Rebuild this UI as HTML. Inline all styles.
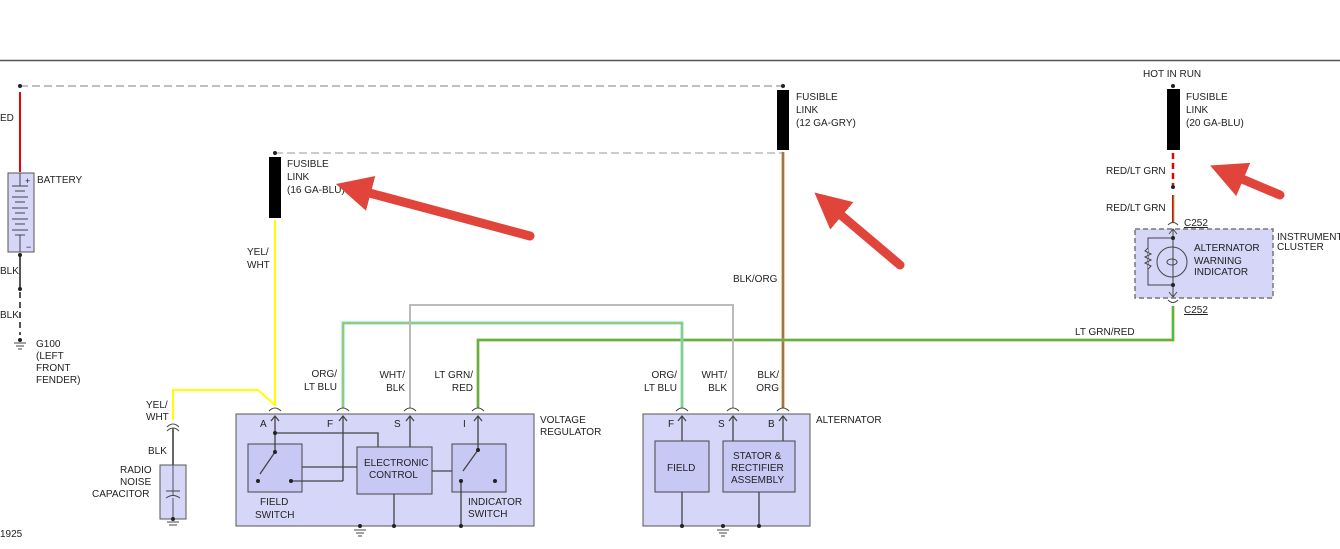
<!DOCTYPE html>
<html><head><meta charset="utf-8"><style>
body{margin:0;background:#fff;width:1340px;height:544px;overflow:hidden}
svg text{font-family:"Liberation Sans",sans-serif;font-size:10px;fill:#222}
</style></head><body>
<svg width="1340" height="544" viewBox="0 0 1340 544" xmlns="http://www.w3.org/2000/svg">
<defs>
<marker id="ah" markerWidth="4" markerHeight="4" refX="1" refY="2" orient="auto"><path d="M0,0 L4,2 L0,4 z" fill="#e0443a"/></marker>
</defs>
<line x1="0" y1="60.5" x2="1340" y2="60.5" stroke="#555" stroke-width="1.5"/>
<!-- dashed supply lines -->
<line x1="20" y1="86" x2="783" y2="86" stroke="#aaa" stroke-width="1.5" stroke-dasharray="8,4"/>
<line x1="275" y1="153" x2="783" y2="153" stroke="#bbb" stroke-width="1.5" stroke-dasharray="8,4"/>
<circle cx="20" cy="86" r="2" fill="#222"/><circle cx="783" cy="86" r="2" fill="#222"/><circle cx="275" cy="153" r="2" fill="#222"/>
<!-- battery -->
<line x1="20" y1="92" x2="20" y2="172" stroke="#e00" stroke-width="2"/>
<text x="0" y="121">ED</text>
<rect x="8" y="173" width="26" height="79" fill="#d6d6f8" stroke="#555"/>
<text x="25" y="184" style="font-size:9px">+</text><text x="26" y="250" style="font-size:9px">−</text>
<g stroke="#444"><line x1="20" y1="173" x2="20" y2="186"/><line x1="12" y1="186" x2="28" y2="186"/><line x1="15" y1="191" x2="25" y2="191"/><line x1="12" y1="197" x2="28" y2="197"/><line x1="15" y1="202" x2="25" y2="202"/><line x1="12" y1="208" x2="28" y2="208"/><line x1="15" y1="213" x2="25" y2="213"/><line x1="12" y1="219" x2="28" y2="219"/><line x1="15" y1="224" x2="25" y2="224"/><line x1="12" y1="230" x2="28" y2="230"/><line x1="15" y1="235" x2="25" y2="235"/><line x1="20" y1="235" x2="20" y2="252"/></g>
<text x="37" y="183">BATTERY</text>
<line x1="20" y1="255" x2="20" y2="289" stroke="#555" stroke-width="2"/>
<line x1="20" y1="292" x2="20" y2="335" stroke="#555" stroke-width="2" stroke-dasharray="6,4"/>
<circle cx="20" cy="255" r="2" fill="#222"/><circle cx="20" cy="289" r="2" fill="#222"/><circle cx="20" cy="340" r="2" fill="#222"/>
<g stroke="#444"><line x1="14" y1="343" x2="26" y2="343"/><line x1="16" y1="346" x2="24" y2="346"/><line x1="18" y1="349" x2="22" y2="349"/></g>
<text x="0" y="274">BLK</text><text x="0" y="318">BLK</text>
<text x="36" y="347">G100</text><text x="36" y="359">(LEFT</text><text x="36" y="371">FRONT</text><text x="36" y="383">FENDER)</text>
<!-- fusible 16 -->
<rect x="269" y="157" width="12" height="61" fill="#000"/>
<text x="287" y="167">FUSIBLE</text><text x="287" y="180">LINK</text><text x="287" y="193">(16 GA-BLU)</text>
<line x1="275" y1="220" x2="275" y2="406" stroke="#ff0" stroke-width="2"/>
<text x="247" y="255">YEL/</text><text x="247" y="268">WHT</text>
<!-- fusible 12 -->
<rect x="777" y="90" width="12" height="60" fill="#000"/>
<text x="796" y="100">FUSIBLE</text><text x="796" y="113">LINK</text><text x="796" y="126">(12 GA-GRY)</text>
<line x1="783" y1="152" x2="783" y2="408" stroke="#e89030" stroke-width="3"/>
<line x1="783" y1="152" x2="783" y2="408" stroke="#666" stroke-width="1.2"/>
<text x="733" y="282">BLK/ORG</text>
<!-- hot in run -->
<text x="1143" y="77">HOT IN RUN</text>
<circle cx="1173" cy="86" r="2" fill="#222"/>
<rect x="1167" y="89" width="13" height="61" fill="#000"/>
<text x="1186" y="100">FUSIBLE</text><text x="1186" y="113">LINK</text><text x="1186" y="126">(20 GA-BLU)</text>
<line x1="1173" y1="153" x2="1173" y2="185" stroke="#e00" stroke-width="2.5" stroke-dasharray="6,4"/>
<circle cx="1173" cy="187" r="2" fill="#222"/>
<line x1="1173" y1="195" x2="1173" y2="222" stroke="#e00" stroke-width="2"/>
<line x1="1174" y1="195" x2="1174" y2="222" stroke="#6d6" stroke-width="1"/>
<text x="1106" y="174">RED/LT GRN</text><text x="1106" y="211">RED/LT GRN</text>
<path d="M1168,225 Q1173,220 1178,225" fill="none" stroke="#444"/>
<text x="1184" y="226" text-decoration="underline">C252</text>
<rect x="1135" y="229" width="138" height="69" fill="#d6d6f8" stroke="#777" stroke-width="1.5" stroke-dasharray="5,3"/>
<text x="1277" y="240">INSTRUMENT</text><text x="1277" y="250">CLUSTER</text>
<g stroke="#444" fill="none"><line x1="1173" y1="229" x2="1173" y2="297"/><path d="M1169,234 L1173,229 L1177,234"/><path d="M1169,292 L1173,297 L1177,292"/>
<circle cx="1172" cy="262" r="15"/><ellipse cx="1172" cy="262" rx="5" ry="3"/>
<path d="M1173,238 H1148 V285 H1173"/><path d="M1148,248 l-3,3 l6,3 l-6,3 l6,3 l-6,3 l6,3 l-3,3" fill="#d6d6f8"/></g>
<circle cx="1173" cy="238" r="2" fill="#222"/><circle cx="1173" cy="285" r="2" fill="#222"/>
<text x="1194" y="251">ALTERNATOR</text><text x="1194" y="264">WARNING</text><text x="1194" y="275">INDICATOR</text>
<path d="M1168,300 Q1173,305 1178,300" fill="none" stroke="#444"/>
<text x="1184" y="313" text-decoration="underline">C252</text>
<!-- green wire -->
<path d="M1173,306 V340 H478 V408" fill="none" stroke="#f88" stroke-width="3"/>
<path d="M1173,306 V340 H478 V408" fill="none" stroke="#3c3" stroke-width="2"/>
<text x="1075" y="335">LT GRN/RED</text>
<!-- org/lt blu wire -->
<path d="M343,408 V323 H682 V408" fill="none" stroke="#5ee" stroke-width="3"/>
<path d="M343,408 V323 H682 V408" fill="none" stroke="#e90" stroke-width="1"/>
<!-- wht/blk -->
<path d="M410,408 V305 H733 V408" fill="none" stroke="#bbb" stroke-width="2"/>
<!-- yellow to capacitor -->
<path d="M275,405 L258,390 H173 V420" fill="none" stroke="#ff0" stroke-width="2"/>
<text x="146" y="408">YEL/</text><text x="146" y="420">WHT</text>
<path d="M167,427 Q173,421 179,427" fill="none" stroke="#444"/><path d="M167,431 Q173,425 179,431" fill="none" stroke="#444"/>
<line x1="173" y1="428" x2="173" y2="518" stroke="#666" stroke-width="2"/>
<text x="148" y="454">BLK</text>
<text x="120" y="473">RADIO</text><text x="120" y="485">NOISE</text><text x="92" y="497">CAPACITOR</text>
<rect x="160" y="465" width="26" height="54" fill="#d6d6f8" stroke="#555"/>
<line x1="173" y1="465" x2="173" y2="519" stroke="#555"/>
<line x1="166" y1="491" x2="180" y2="491" stroke="#444"/><path d="M166,498 Q173,493 180,498" fill="#d6d6f8" stroke="#444"/>
<circle cx="173" cy="519" r="2" fill="#222"/>
<g stroke="#444"><line x1="167" y1="522" x2="179" y2="522"/><line x1="169" y1="525" x2="177" y2="525"/></g>
<text x="0" y="537">1925</text>
<!-- connectors at regulator/alternator -->
<g fill="none" stroke="#444">
<path d="M269,411 Q275,405 281,411"/><path d="M337,411 Q343,405 349,411"/><path d="M404,411 Q410,405 416,411"/><path d="M472,411 Q478,405 484,411"/>
<path d="M676,411 Q682,405 688,411"/><path d="M727,411 Q733,405 739,411"/><path d="M777,411 Q783,405 789,411"/>
</g>
<!-- voltage regulator -->
<rect x="236" y="414" width="298" height="112" fill="#d6d6f8" stroke="#555"/>
<text x="540" y="423">VOLTAGE</text><text x="540" y="435">REGULATOR</text>
<text x="260" y="427">A</text><text x="327" y="427">F</text><text x="394" y="427">S</text><text x="463" y="427">I</text>
<rect x="248" y="444" width="54" height="48" fill="#c8c8f4" stroke="#444"/>
<rect x="357" y="447" width="75" height="47" fill="#c8c8f4" stroke="#444"/>
<rect x="452" y="444" width="54" height="48" fill="#c8c8f4" stroke="#444"/>
<g fill="none" stroke="#444" stroke-width="1.3">
<line x1="275" y1="416" x2="275" y2="452"/><path d="M271,421 L275,416 L279,421"/>
<path d="M275,433 H378 V447"/><path d="M275,452 L260,474"/>
<line x1="343" y1="416" x2="343" y2="481"/><path d="M339,421 L343,416 L347,421"/><path d="M291,481 H343"/>
<path d="M302,467 H357"/>
<line x1="410" y1="416" x2="410" y2="447"/><path d="M406,421 L410,416 L414,421"/>
<line x1="478" y1="416" x2="478" y2="450"/><path d="M474,421 L478,416 L482,421"/><path d="M478,450 L463,471"/>
<path d="M432,471 H452"/>
<line x1="394" y1="494" x2="394" y2="526"/><line x1="461" y1="481" x2="461" y2="526"/>
</g>
<g fill="#222"><circle cx="275" cy="433" r="2"/><circle cx="275" cy="452" r="2"/><circle cx="258" cy="481" r="2"/><circle cx="291" cy="481" r="2"/><circle cx="478" cy="450" r="2"/><circle cx="461" cy="481" r="2"/><circle cx="495" cy="481" r="2"/><circle cx="394" cy="526" r="2"/><circle cx="461" cy="526" r="2"/><circle cx="360" cy="526" r="2"/></g>
<g stroke="#444"><line x1="354" y1="530" x2="366" y2="530"/><line x1="356" y1="533" x2="364" y2="533"/><line x1="358" y1="536" x2="362" y2="536"/></g>
<text x="364" y="466">ELECTRONIC</text><text x="369" y="478">CONTROL</text>
<text x="260" y="505">FIELD</text><text x="255" y="518">SWITCH</text>
<text x="468" y="505">INDICATOR</text><text x="468" y="517">SWITCH</text>
<g text-anchor="end"><text x="337" y="377">ORG/</text><text x="337" y="390">LT BLU</text>
<text x="405" y="378">WHT/</text><text x="405" y="391">BLK</text>
<text x="473" y="378">LT GRN/</text><text x="473" y="391">RED</text>
<text x="677" y="378">ORG/</text><text x="677" y="391">LT BLU</text>
<text x="727" y="378">WHT/</text><text x="727" y="391">BLK</text>
<text x="779" y="378">BLK/</text><text x="779" y="391">ORG</text></g>
<!-- alternator -->
<rect x="643" y="414" width="167" height="112" fill="#d6d6f8" stroke="#555"/>
<text x="816" y="423">ALTERNATOR</text>
<text x="668" y="427">F</text><text x="718" y="427">S</text><text x="768" y="427">B</text>
<rect x="655" y="441" width="54" height="51" fill="#c8c8f4" stroke="#444"/>
<rect x="723" y="441" width="72" height="51" fill="#c8c8f4" stroke="#444"/>
<g fill="none" stroke="#444" stroke-width="1.3">
<line x1="682" y1="416" x2="682" y2="441"/><path d="M678,421 L682,416 L686,421"/>
<line x1="733" y1="416" x2="733" y2="441"/><path d="M729,421 L733,416 L737,421"/>
<line x1="783" y1="416" x2="783" y2="441"/><path d="M779,421 L783,416 L787,421"/>
<line x1="682" y1="492" x2="682" y2="526"/><line x1="759" y1="492" x2="759" y2="526"/>
</g>
<g fill="#222"><circle cx="682" cy="526" r="2"/><circle cx="759" cy="526" r="2"/><circle cx="723" cy="526" r="2"/></g>
<g stroke="#444"><line x1="717" y1="530" x2="729" y2="530"/><line x1="719" y1="533" x2="727" y2="533"/><line x1="721" y1="536" x2="725" y2="536"/></g>
<text x="667" y="471">FIELD</text>
<text x="733" y="459">STATOR &amp;</text><text x="731" y="471">RECTIFIER</text><text x="731" y="483">ASSEMBLY</text>
<!-- red arrows -->
<g stroke="#e0443a" stroke-width="9" stroke-linecap="round" fill="none" marker-end="url(#ah)">
<line x1="530" y1="236" x2="362" y2="191"/>
<line x1="900" y1="265" x2="835" y2="210"/>
<line x1="1280" y1="195" x2="1235" y2="176"/>
</g>
</svg>
</body></html>
